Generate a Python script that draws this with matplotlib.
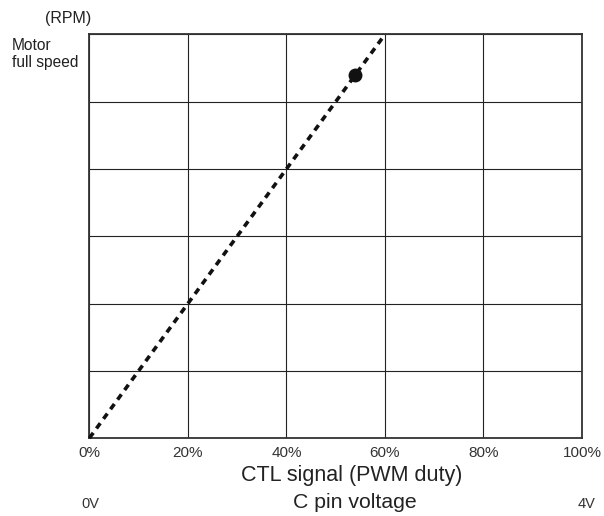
import matplotlib
matplotlib.use('Agg')
import matplotlib.pyplot as plt

plt.rcParams['font.family'] = ['Liberation Sans', 'DejaVu Sans']

# Veri: PWM görev oranı (%) ve hız (ızgara birimi, 6 = tam hız)
duty = [0, 60]
speed = [0, 6]
point_duty = [54]
point_speed = [5.4]
x_ticks = [0, 20, 40, 60, 80, 100]
x_labels = ['0%', '20%', '40%', '60%', '80%', '100%']
y_ticks = [0, 1, 2, 3, 4, 5, 6]

fig = plt.figure(figsize=(6.04, 5.16), dpi=100)
ax = fig.add_axes([0.148, 0.151, 0.8156, 0.7823])

ax.plot(duty, speed, color='#111111', linewidth=2.6, linestyle=(0, (1.8, 1.5)),
        clip_on=False, zorder=3)
ax.plot(point_duty, point_speed, 'o', color='#111111', markersize=9, zorder=4)

ax.set_xlim(0, 100)
ax.set_ylim(0, 6)
ax.set_xticks(x_ticks)
ax.set_xticklabels(x_labels, fontsize=11, color='#333333')
ax.set_yticks(y_ticks)
ax.set_yticklabels([])
ax.tick_params(length=0, pad=5.5)
ax.grid(True, color='#222222', linewidth=0.8)
for s in ax.spines.values():
    s.set_color('#333333')
    s.set_linewidth(1.3)

def px(x, y):
    return x / 604, 1 - y / 516

fig.text(*px(352, 481), 'CTL signal (PWM duty)', fontsize=15.5, ha='center', va='baseline',
         color='#222222')
fig.text(*px(68, 18), '(RPM)', fontsize=11.5, ha='center', va='center', color='#222222')
fig.text(*px(12, 54), 'Motor\nfull speed', fontsize=11.2, ha='left', va='center',
         color='#222222', linespacing=1.1)
fig.text(*px(90.5, 508.5), '0V', fontsize=10.5, ha='center', va='baseline', color='#333333')
fig.text(*px(587, 508.5), '4V', fontsize=10.5, ha='center', va='baseline', color='#333333')
fig.text(*px(355, 508.5), 'C pin voltage', fontsize=15.3, ha='center', va='baseline',
         color='#222222')

fig.savefig('out.png', dpi=100)
